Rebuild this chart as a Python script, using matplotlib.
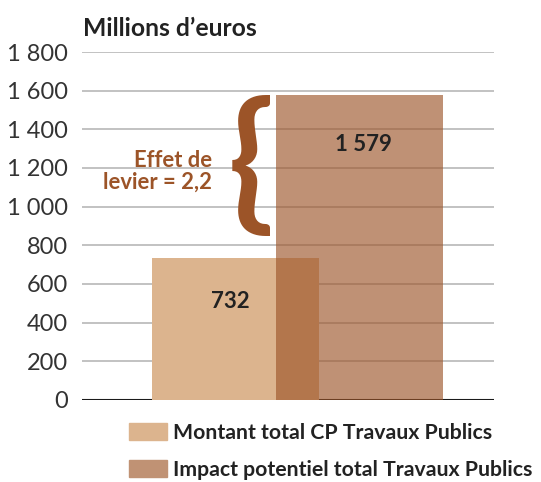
import matplotlib
matplotlib.use("Agg")
import matplotlib.pyplot as plt
from matplotlib.patches import Patch

# ---- data ----
categories = ["Montant total CP Travaux Publics", "Impact potentiel total Travaux Publics"]
values = [732, 1579]
value_labels = ["732", "1 579"]
ytick_values = [0, 200, 400, 600, 800, 1000, 1200, 1400, 1600, 1800]
ytick_labels = ["0", "200", "400", "600", "800", "1 000", "1 200", "1 400", "1 600", "1 800"]
title = "Millions d\u2019euros"
lever_text = "Effet de\nlevier = 2,2"

# ---- style ----
W, H = 541, 482
DPI = 100
fig = plt.figure(figsize=(W / DPI, H / DPI), dpi=DPI)
FONT = "Lato"
plt.rcParams["font.family"] = [FONT, "DejaVu Sans"]

ax = fig.add_axes([82 / W, 82 / H, 412 / W, 348 / H])
ax.set_xlim(0, 1)
ax.set_ylim(0, 1800)

brown = "#9c5428"
bar1_color = "#dcb48e"
bar2_color = (156 / 255, 84 / 255, 40 / 255, 0.64)

positions = [0.3726, 0.6735]
width = 0.405

for y in ytick_values[1:]:
    ax.axhline(y, color="#bdbdbd", lw=1.3, zorder=0)
ax.axhline(0, color="#1a1a1a", lw=1.5, zorder=0.5)

b1 = ax.bar(positions[0], values[0], width=width, color=bar1_color, zorder=1, label=categories[0])
b2 = ax.bar(positions[1], values[1], width=width, color=bar2_color, zorder=2, label=categories[1])

# value labels
ax.text(0.359, 508, value_labels[0], ha="center", va="center", fontsize=16,
        fontweight="bold", color="#222222", zorder=5)
ax.text(0.682, 1321, value_labels[1], ha="center", va="center", fontsize=16,
        fontweight="bold", color="#222222", zorder=5)

# brace + lever text
ax.text(0.41, 1200, "{", ha="center", va="center", fontsize=109, color=brown,
        fontweight="bold", zorder=5)
ax.text(0.316, 1181, lever_text, ha="right", va="center", fontsize=15.8,
        fontweight="bold", color=brown, linespacing=1.05, multialignment="right", zorder=5)

# axes styling
for s in ax.spines.values():
    s.set_visible(False)
ax.set_xticks([])
ax.set_yticks(ytick_values)
ax.set_yticklabels(ytick_labels, fontsize=17, color="#333333", fontweight="normal")
ax.tick_params(axis="y", length=0, pad=10)

fig.text(83 / W, 1 - 28 / H, title, ha="left", va="center", fontsize=17.8,
         fontweight="bold", color="#222222")

handles = [Patch(color=bar1_color), Patch(color=(192 / 255, 146 / 255, 116 / 255))]
fig.legend(handles, categories, loc="upper left", bbox_to_anchor=(129 / W, 1 - 423 / H),
           frameon=False, prop={"weight": "bold", "size": 15.3},
           handlelength=1.8, handleheight=0.85, handletextpad=0.28, labelspacing=0.78,
           borderpad=0, borderaxespad=0, labelcolor="#222222")

fig.savefig("out.png", dpi=DPI)
